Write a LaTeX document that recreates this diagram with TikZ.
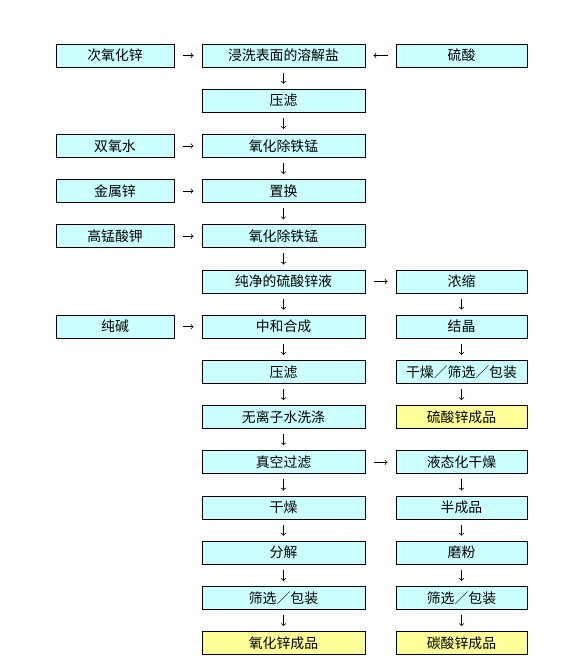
\documentclass[tikz,border=0pt]{standalone}
\usepackage{fontspec}
\newfontfamily\cjk{Noto Sans CJK SC}

\definecolor{boxfill}{HTML}{CCFFFF}
\definecolor{donefill}{HTML}{FFFF99}

\tikzset{
  box/.style={draw, line width=0.75pt, fill=boxfill, inner sep=0pt,
              minimum height=17.25pt, font=\cjk\fontsize{10.4}{12}\selectfont},
  lbox/.style={box, minimum width=88.5pt},
  mbox/.style={box, minimum width=122.25pt},
  rbox/.style={box, minimum width=98.25pt},
  done/.style={fill=donefill},
  hflow/.style={->, line width=0.55pt, shorten <=6pt, shorten >=6pt},
  vflow/.style={->, line width=0.55pt, shorten <=3.75pt, shorten >=3.75pt}
}

\begin{document}
\begin{tikzpicture}[x=0.75pt, y=-0.75pt]

\useasboundingbox (0,0) rectangle (584,671);

% -------- middle column -----------
\node [mbox] (m1)  at (283.5, 55.5)  {浸洗表面的溶解盐};
\node [mbox] (m2)  at (283.5, 100.7) {压滤};
\node [mbox] (m3)  at (283.5, 145.9) {氧化除铁锰};
\node [mbox] (m4)  at (283.5, 191.1) {置换};
\node [mbox] (m5)  at (283.5, 236.3) {氧化除铁锰};
\node [mbox] (m6)  at (283.5, 281.5) {纯净的硫酸锌液};
\node [mbox] (m7)  at (283.5, 326.7) {中和合成};
\node [mbox] (m8)  at (283.5, 371.9) {压滤};
\node [mbox] (m9)  at (283.5, 417.1) {无离子水洗涤};
\node [mbox] (m10) at (283.5, 462.3) {真空过滤};
\node [mbox] (m11) at (283.5, 507.5) {干燥};
\node [mbox] (m12) at (283.5, 552.7) {分解};
\node [mbox] (m13) at (283.5, 597.9) {筛选／包装};
\node [mbox, done] (m14) at (283.5, 643.1) {氧化锌成品};

% -------- left column -----------
\node [lbox] (l1) at (115, 55.5)  {次氧化锌};
\node [lbox] (l3) at (115, 145.9) {双氧水};
\node [lbox] (l4) at (115, 191.1) {金属锌};
\node [lbox] (l5) at (115, 236.3) {高锰酸钾};
\node [lbox] (l7) at (115, 326.7) {纯碱};

% -------- right column -----------
\node [rbox] (r1)  at (461.5, 55.5)  {硫酸};
\node [rbox] (r6)  at (461.5, 281.5) {浓缩};
\node [rbox] (r7)  at (461.5, 326.7) {结晶};
\node [rbox] (r8)  at (461.5, 371.9) {干燥／筛选／包装};
\node [rbox, done] (r9) at (461.5, 417.1) {硫酸锌成品};
\node [rbox] (r10) at (461.5, 462.3) {液态化干燥};
\node [rbox] (r11) at (461.5, 507.5) {半成品};
\node [rbox] (r12) at (461.5, 552.7) {磨粉};
\node [rbox] (r13) at (461.5, 597.9) {筛选／包装};
\node [rbox, done] (r14) at (461.5, 643.1) {碳酸锌成品};

% -------- horizontal arrows -----------
\draw [hflow] (l1) -- (m1);
\draw [hflow] (r1) -- (m1);
\draw [hflow] (l3) -- (m3);
\draw [hflow] (l4) -- (m4);
\draw [hflow] (l5) -- (m5);
\draw [hflow] (m6) -- (r6);
\draw [hflow] (l7) -- (m7);
\draw [hflow] (m10) -- (r10);

% -------- vertical arrows -----------
\draw [vflow] (m1) -- (m2);
\draw [vflow] (m2) -- (m3);
\draw [vflow] (m3) -- (m4);
\draw [vflow] (m4) -- (m5);
\draw [vflow] (m5) -- (m6);
\draw [vflow] (m6) -- (m7);
\draw [vflow] (m7) -- (m8);
\draw [vflow] (m8) -- (m9);
\draw [vflow] (m9) -- (m10);
\draw [vflow] (m10) -- (m11);
\draw [vflow] (m11) -- (m12);
\draw [vflow] (m12) -- (m13);
\draw [vflow] (m13) -- (m14);

\draw [vflow] (r6) -- (r7);
\draw [vflow] (r7) -- (r8);
\draw [vflow] (r8) -- (r9);
\draw [vflow] (r10) -- (r11);
\draw [vflow] (r11) -- (r12);
\draw [vflow] (r12) -- (r13);
\draw [vflow] (r13) -- (r14);

\end{tikzpicture}
\end{document}
